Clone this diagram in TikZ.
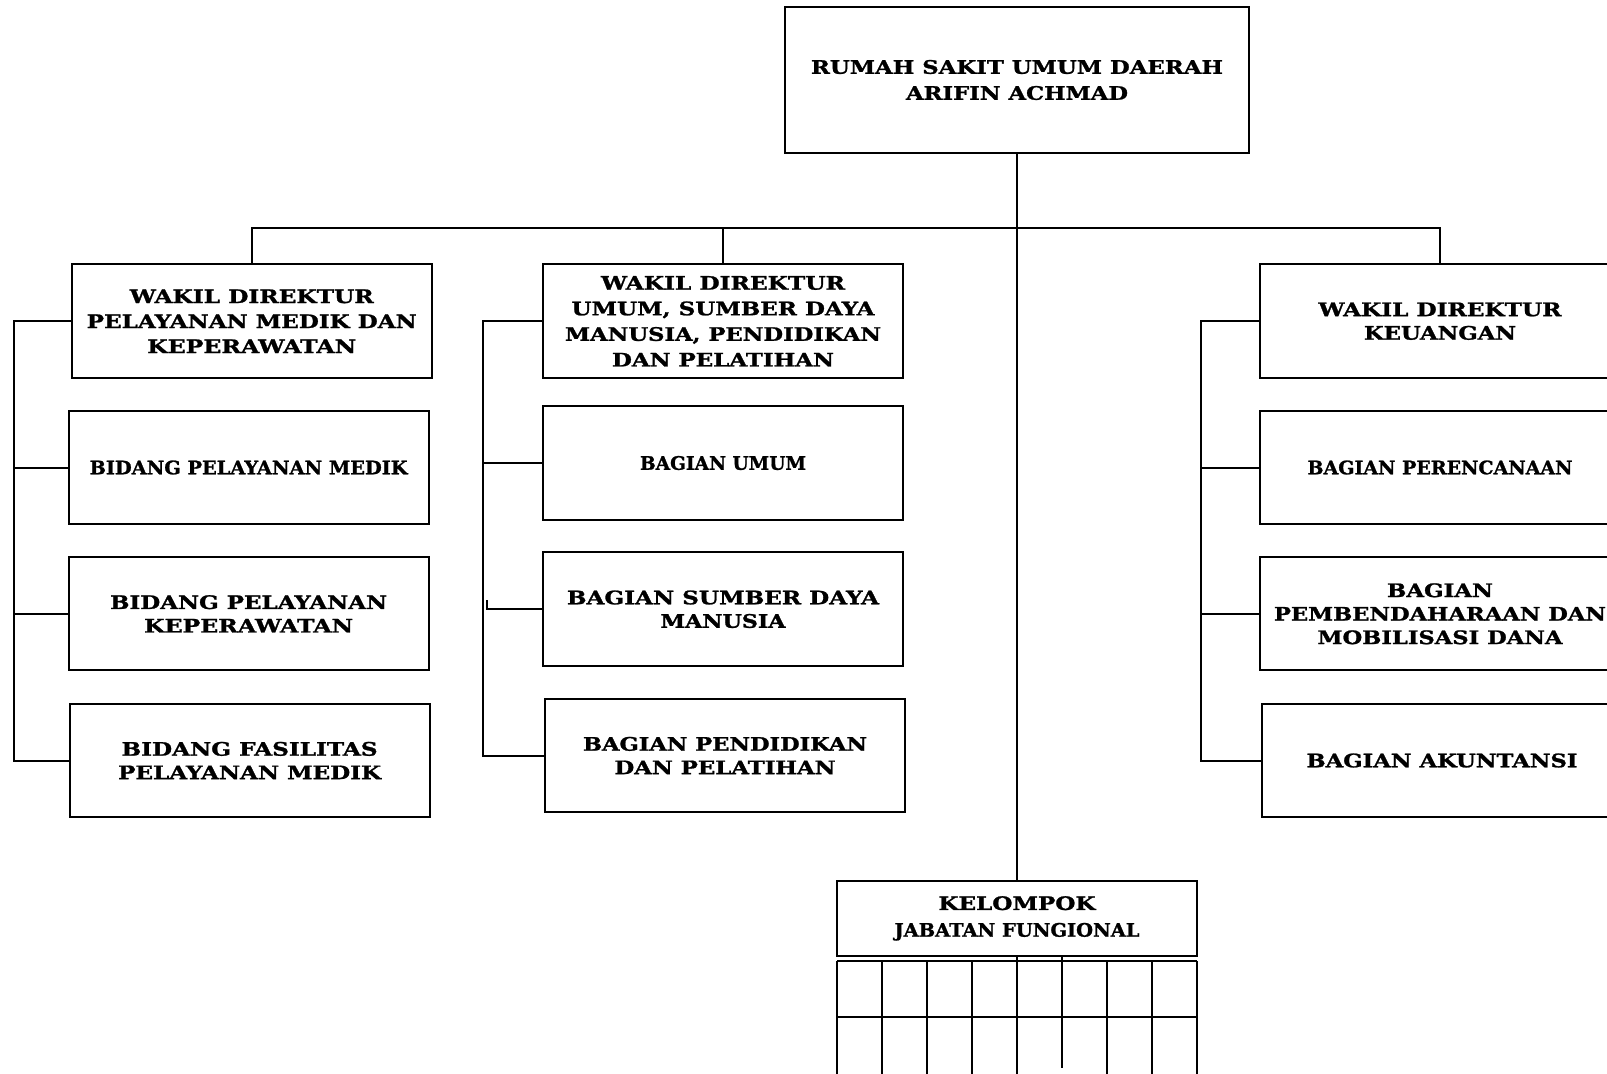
\documentclass[tikz,border=0pt]{standalone}
\usepackage{fontspec}
\setmainfont{DejaVu Serif}[BoldFeatures={FakeBold=1.2}]
\usepackage{graphicx}
\newcommand\fitline[2]{\resizebox{#1pt}{\height}{#2}}
\begin{document}
\begin{tikzpicture}[x=0.5pt,y=-0.5pt,line width=1pt,
  orgbox/.style={draw,line width=1pt,rectangle,inner sep=0pt,
    minimum width=180pt,minimum height=56.5pt,align=center,
    font=\bfseries\fontsize{9.3}{11.75}\selectfont},
  wide/.style={font=\bfseries\fontsize{9.3}{12.5}\selectfont},
  wider/.style={font=\bfseries\fontsize{9.3}{12.8}\selectfont},
  conn/.style={line width=1pt}]
\useasboundingbox (0,0) rectangle (1607,1073);
\begin{scope}
\clip (0,0) rectangle (1607,1073);
% top
\node[orgbox,minimum width=232pt,minimum height=73pt,font=\bfseries\fontsize{9.3}{13}\selectfont] (top) at (1017,80)
  {\fitline{206}{RUMAH SAKIT UMUM DAERAH}\\\fitline{111}{ARIFIN ACHMAD}};
% column A
\node[orgbox,wide,minimum height=57pt] (A0) at (251.75,321.25)
  {\fitline{122}{WAKIL DIREKTUR}\\\fitline{165}{PELAYANAN MEDIK DAN}\\\fitline{104.5}{KEPERAWATAN}};
\node[orgbox] (A1) at (248.6,467.5) {\fitline{159}{BIDANG PELAYANAN MEDIK}};
\node[orgbox] (A2) at (248.6,613.8) {\fitline{138.5}{BIDANG PELAYANAN}\\\fitline{104.5}{KEPERAWATAN}};
\node[orgbox] (A3) at (249.6,760.5) {\fitline{128}{BIDANG FASILITAS}\\\fitline{131.5}{PELAYANAN MEDIK}};
% column B
\node[orgbox,wider,minimum height=57pt] (B0) at (723,321.25)
  {\fitline{122}{WAKIL DIREKTUR}\\\fitline{151.5}{UMUM, SUMBER DAYA}\\\fitline{158}{MANUSIA, PENDIDIKAN}\\\fitline{111}{DAN PELATIHAN}};
\node[orgbox,minimum height=57pt] (B1) at (723,463) {\fitline{83}{BAGIAN UMUM}};
\node[orgbox,minimum height=57pt] (B2) at (723,609.25) {\fitline{156}{BAGIAN SUMBER DAYA}\\\fitline{62.5}{MANUSIA}};
\node[orgbox] (B3) at (725,755.5) {\fitline{142}{BAGIAN PENDIDIKAN}\\\fitline{110.5}{DAN PELATIHAN}};
% column C
\node[orgbox,minimum height=57pt] (C0) at (1440,321.25) {\fitline{121.5}{WAKIL DIREKTUR}\\\fitline{76}{KEUANGAN}};
\node[orgbox] (C1) at (1440,467.5) {\fitline{132.5}{BAGIAN PERENCANAAN}};
\node[orgbox] (C2) at (1440,613.8) {\fitline{53}{BAGIAN}\\\fitline{166}{PEMBENDAHARAAN DAN}\\\fitline{122.5}{MOBILISASI DANA}};
\node[orgbox] (C3) at (1442,760.5) {\fitline{135.5}{BAGIAN AKUNTANSI}};
% kelompok
\node[orgbox,minimum height=37.65pt,font=\bfseries\fontsize{9.3}{13.35}\selectfont] (K) at (1017,918.35)
  {\fitline{78.5}{KELOMPOK}\\\fitline{122.5}{JABATAN FUNGIONAL}};
% connectors
\coordinate (bus) at (0,227.5);
\coordinate (gridbot) at (0,1090);
\coordinate (sA) at (14,0);
\coordinate (sB) at (483,0);
\coordinate (sC) at (1201,0);
\coordinate (qB) at (487,600);
\draw[conn] (top.south) -- (K.north);
\draw[conn] (A0.north) -- (A0.north |- bus) -- (C0.north |- bus) -- (C0.north);
\draw[conn] (B0.north) -- (B0.north |- bus);
\draw[conn] (A0.west) -- (A0.west -| sA) -- (A3.west -| sA) -- (A3.west);
\draw[conn] (A1.west) -- (A1.west -| sA);
\draw[conn] (A2.west) -- (A2.west -| sA);
\draw[conn] (B0.west) -- (B0.west -| sB) -- (B3.west -| sB) -- (B3.west);
\draw[conn] (B1.west) -- (B1.west -| sB);
\draw[conn] (B2.west) -- (B2.west -| qB) -- (qB);
\draw[conn] (C0.west) -- (C0.west -| sC) -- (C3.west -| sC) -- (C3.west);
\draw[conn] (C1.west) -- (C1.west -| sC);
\draw[conn] (C2.west) -- (C2.west -| sC);
% grid below
\draw[conn] (837,961) -- (1197,961);
\draw[conn] (837,1016.7) -- (1197,1016.7);
\foreach \i in {0,1,2,3,6,7,8} \draw[conn] (837+45*\i,961) -- (837+45*\i,1090);
\draw[conn] (K.south) -- (K.south |- gridbot);
\draw[conn] (1062,956) -- (1062,1068);
\end{scope}
\end{tikzpicture}
\end{document}
